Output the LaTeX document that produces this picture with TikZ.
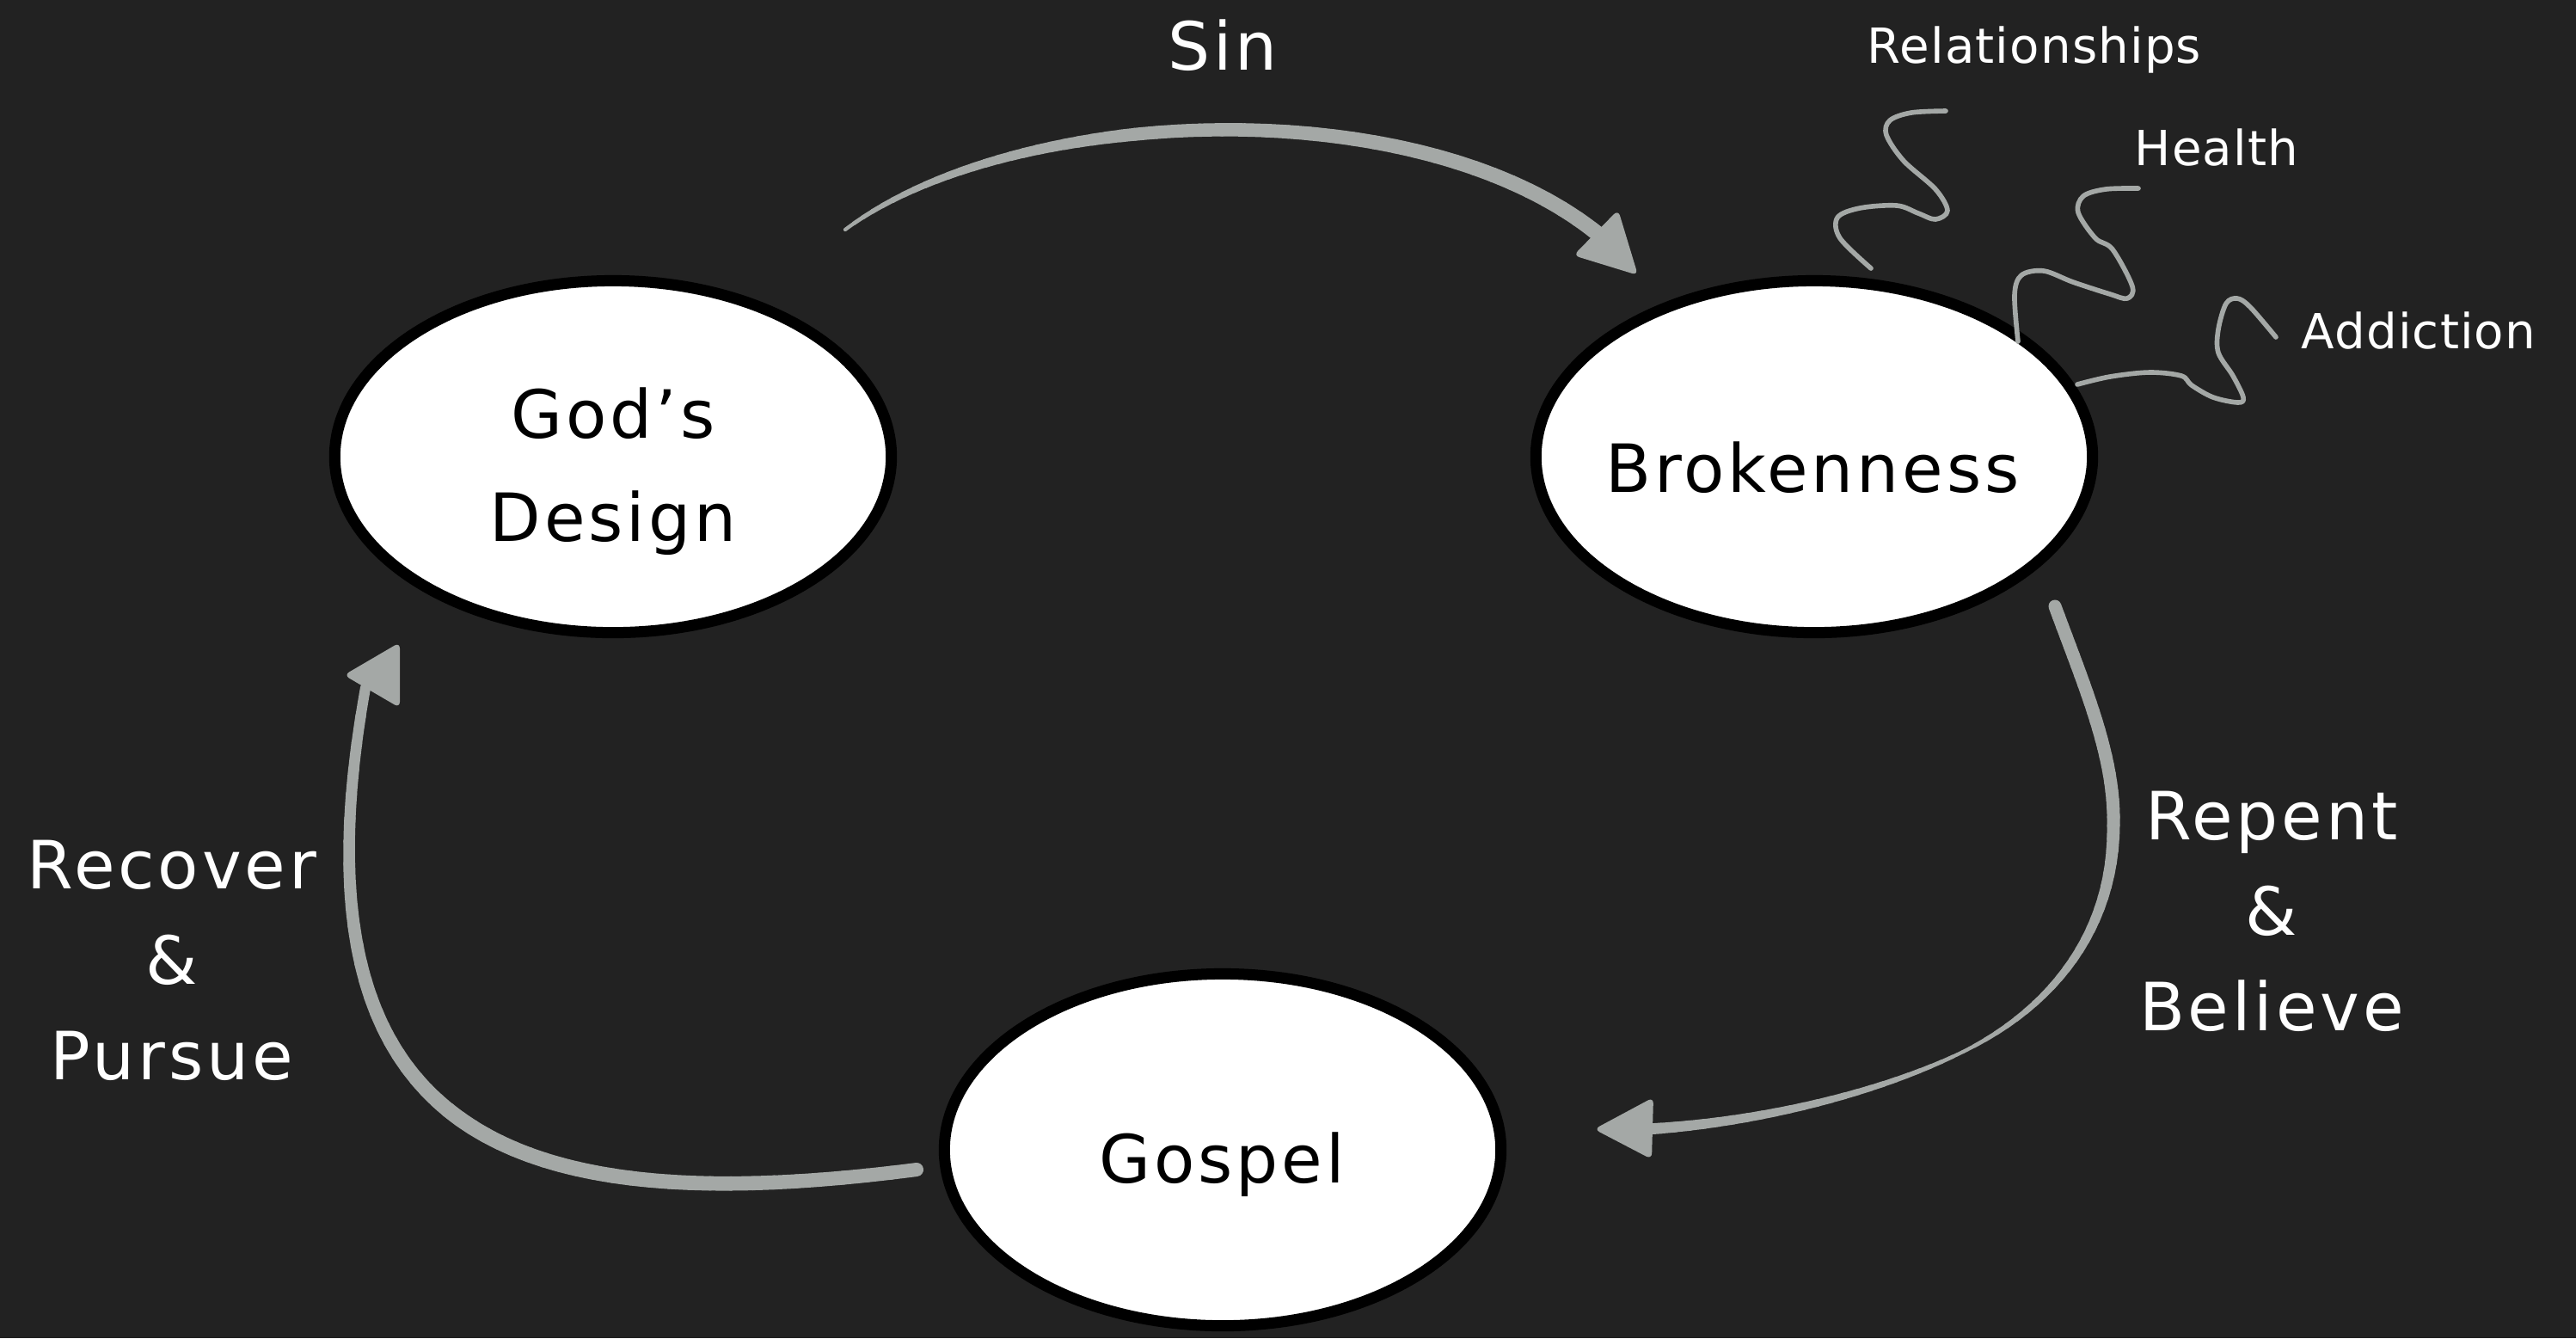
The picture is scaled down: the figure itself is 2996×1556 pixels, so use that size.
\documentclass[tikz,border=0pt]{standalone}
\usepackage{fontspec}
\usetikzlibrary{shapes.geometric}
\newfontfamily\chalk{DejaVu Sans}[LetterSpace=5]
\newfontfamily\chalksm{DejaVu Sans}[LetterSpace=2]
\definecolor{bg}{HTML}{222222}
\definecolor{arrowgray}{HTML}{A4A8A6}
% tapered stroke along a cubic Bezier given by four named coordinates
\newcommand{\taperseg}[8]{%
  \foreach \k in {0,...,23}{%
    \pgfmathsetmacro{\ta}{#5+(#6-#5)*\k/24}%
    \pgfmathsetmacro{\tb}{#5+(#6-#5)*(\k+1)/24}%
    \pgfmathsetmacro{\ww}{(#7+(#8-#7)*(\k+0.5)/24)*0.28453}%
    \pgfsetlinewidth{\ww pt}%
    \pgfpathcurvebetweentime{\ta}{\tb}{\pgfpointanchor{#1}{center}}{\pgfpointanchor{#2}{center}}{\pgfpointanchor{#3}{center}}{\pgfpointanchor{#4}{center}}%
    \pgfusepath{stroke}%
  }%
}
\begin{document}
\begin{tikzpicture}[x=0.01cm,y=-0.01cm,
  bubble/.style={ellipse, draw=black, fill=white, line width=3.7pt,
    minimum width=6.47cm, minimum height=4.09cm, inner sep=0pt},
  intext/.style={font=\chalk\fontsize{22}{34}\selectfont, text=black, align=center, inner sep=0pt},
  bigtext/.style={font=\chalk\fontsize{22}{31.5}\selectfont, text=white, align=center, inner sep=0pt},
  smalltext/.style={font=\chalksm\fontsize{16}{19}\selectfont, text=white, inner sep=0pt},
  squig/.style={draw=arrowgray, line width=1.6pt, line cap=round, line join=round},
  headtip/.style={fill=arrowgray, rounded corners=2pt}]
\useasboundingbox (0,0) rectangle (2996,1556);
\fill[bg] (0,0) rectangle (2996,1556);

% ---------- bubbles ----------
\node[bubble] (gd) at (713,531) {};
\node[bubble] (br) at (2110,531) {};
\node[bubble] (gs) at (1422,1337) {};
\node[intext] (gdt) at (713,548) {God’s\\Design};
\node[intext, anchor=base] (brt) at (2108,572) {Brokenness};
\node[intext, anchor=base] (gst) at (1421,1375) {Gospel};

% ---------- labels ----------
\node[bigtext, anchor=base] (sin) at (1422,81) {Sin};
\node[bigtext] (rb) at (2642,1060) {Repent\\\&\\Believe};
\node[bigtext] (rp) at (200,1117) {Recover\\\&\\Pursue};
\node[smalltext, anchor=base] (rel) at (2366,73) {Relationships};
\node[smalltext, anchor=base] (hea) at (2578,192) {Health};
\node[smalltext, anchor=base] (add) at (2813,405) {Addiction};

% ---------- arrow control points ----------
\coordinate (s0) at (983,267);
\coordinate (s1) at (1180,120);
\coordinate (s2) at (1660,100);
\coordinate (s3) at (1868,280);
\coordinate (sh1) at (1905,320);
\coordinate (sh2) at (1882,244);
\coordinate (sh3) at (1830,297);

\coordinate (r0) at (2390,705);
\coordinate (r1) at (2425,800);
\coordinate (r2) at (2460,880);
\coordinate (r3) at (2458,960);
\coordinate (r4) at (2458,1080);
\coordinate (r5) at (2390,1170);
\coordinate (r6) at (2283,1223);
\coordinate (r7) at (2190,1269);
\coordinate (r8) at (2050,1305);
\coordinate (r9) at (1915,1313);
\coordinate (rh1) at (1854,1313);
\coordinate (rh2) at (1923,1276);
\coordinate (rh3) at (1921,1348);

\coordinate (c0) at (1066,1360);
\coordinate (c1) at (600,1420);
\coordinate (c2) at (330,1330);
\coordinate (c3) at (425,800);
\coordinate (ch1) at (465,747);
\coordinate (ch2) at (400,785);
\coordinate (ch3) at (465,823);

% ---------- arrows ----------
\begin{scope}[color=arrowgray, line cap=round]
  \taperseg{s0}{s1}{s2}{s3}{0}{0.4}{4}{15}
  \taperseg{s0}{s1}{s2}{s3}{0.4}{1}{15}{18}
  \taperseg{r0}{r1}{r2}{r3}{0}{1}{15}{15}
  \taperseg{r3}{r4}{r5}{r6}{0}{1}{15}{4}
  \taperseg{r6}{r7}{r8}{r9}{0}{1}{4}{13}
  \taperseg{c0}{c1}{c2}{c3}{0}{0.5}{16}{18}
  \taperseg{c0}{c1}{c2}{c3}{0.5}{1}{18}{12}
\end{scope}
\fill[headtip] (sh1) -- (sh2) -- (sh3) -- cycle;
\fill[headtip] (rh1) -- (rh2) -- (rh3) -- cycle;
\fill[headtip] (ch1) -- (ch2) -- (ch3) -- cycle;

% ---------- squiggles ----------
\draw[squig] plot[smooth, tension=0.55] coordinates {(2263,129) (2223,131) (2198,140) (2194,157) (2214,187) (2251,220) (2265,245) (2251,255) (2231,248) (2206,239) (2163,242) (2137,253) (2140,277) (2176,312)};
\draw[squig] plot[smooth, tension=0.55] coordinates {(2487,219) (2449,220) (2423,228) (2417,247) (2437,277) (2457,290) (2480,333) (2474,347) (2454,342) (2411,328) (2377,315) (2351,320) (2343,343) (2347,397)};
\draw[squig] plot[smooth, tension=0.55] coordinates {(2647,392) (2617,357) (2602,347) (2589,353) (2580,383) (2580,410) (2597,437) (2609,462) (2603,468) (2574,462) (2549,448) (2537,437) (2500,433) (2454,438) (2416,447)};
\end{tikzpicture}
\end{document}
